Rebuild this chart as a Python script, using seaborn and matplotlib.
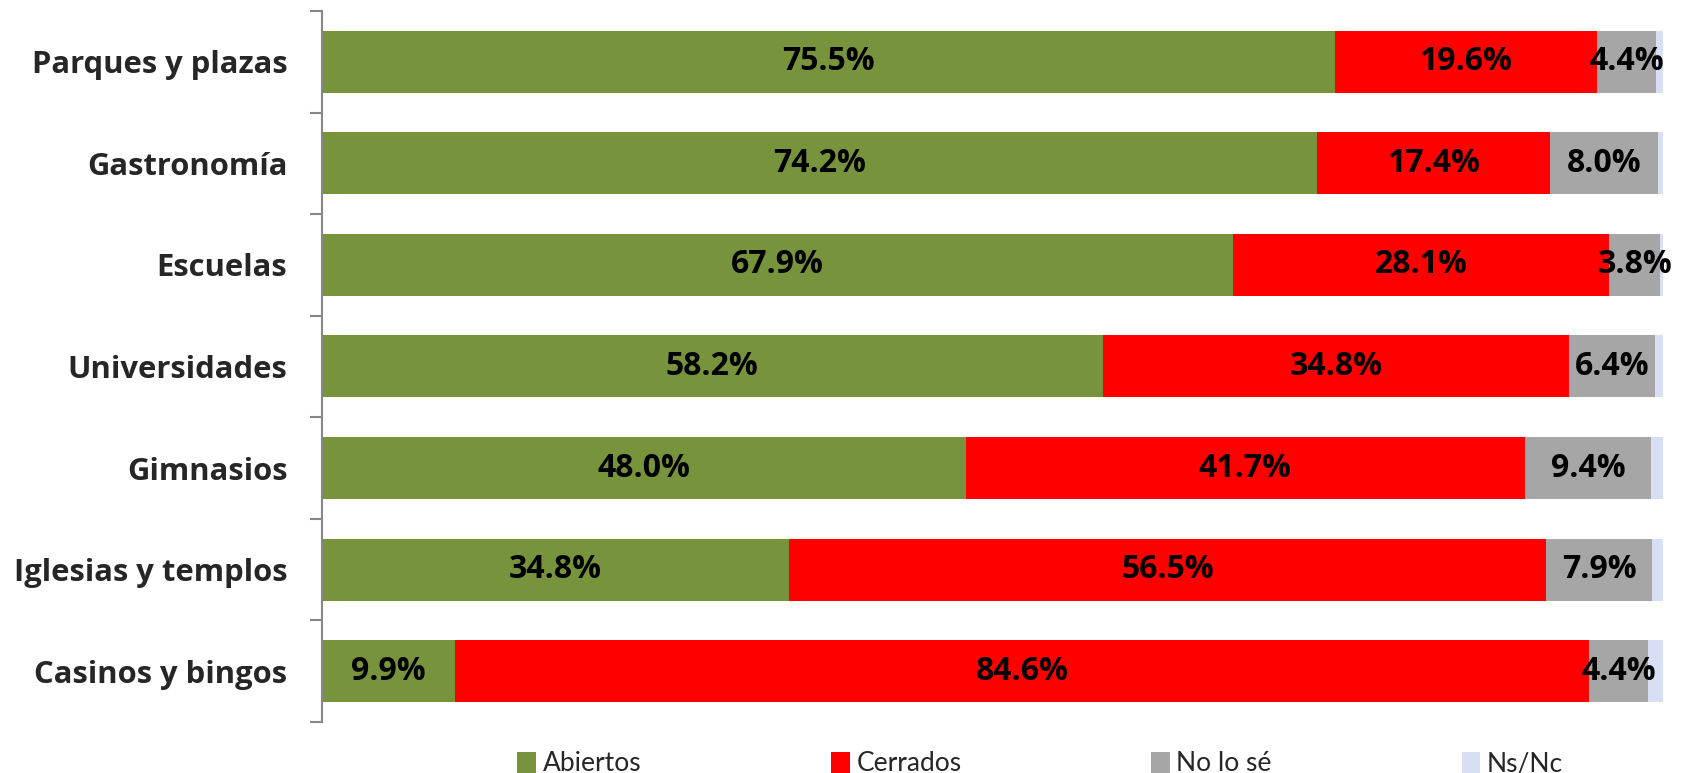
import numpy as np
import pandas as pd
import matplotlib
matplotlib.use("Agg")
import matplotlib.pyplot as plt
from matplotlib.patches import Patch
import seaborn as sns

categories = ["Parques y plazas", "Gastronomía", "Escuelas", "Universidades",
              "Gimnasios", "Iglesias y templos", "Casinos y bingos"]
abiertos = [75.5, 74.2, 67.9, 58.2, 48.0, 34.8, 9.9]
cerrados = [19.6, 17.4, 28.1, 34.8, 41.7, 56.5, 84.6]
no_lo_se = [4.4, 8.0, 3.8, 6.4, 9.4, 7.9, 4.4]
ns_nc = [0.5, 0.4, 0.2, 0.6, 0.9, 0.8, 1.1]
series_names = ["Abiertos", "Cerrados", "No lo sé", "Ns/Nc"]
colors = ["#77933C", "#FF0000", "#A6A6A6", "#D6DFF3"]

sns.set_style("white")
plt.rcParams["font.family"] = ["Open Sans", "DejaVu Sans"]

df = pd.DataFrame({"cat": categories, "Abiertos": abiertos, "Cerrados": cerrados,
                   "No lo sé": no_lo_se, "Ns/Nc": ns_nc})
vals = df[series_names].to_numpy()
cum = np.cumsum(vals, axis=1)

fig = plt.figure(figsize=(16.86, 7.73), dpi=100)
ax = fig.add_axes([0.191, 0.066, 0.9864 - 0.191, 0.9858 - 0.066])

for j in range(len(series_names) - 1, -1, -1):
    d = pd.DataFrame({"cat": categories, "v": cum[:, j]})
    sns.barplot(data=d, x="v", y="cat", orient="h", color=colors[j],
                width=0.61, ax=ax, saturation=1, edgecolor="none", linewidth=0)

ax.set_xlim(0, 100)
ax.set_xlabel("")
ax.set_ylabel("")
ax.set_xticks([])

# value labels (first three series)
for i in range(len(categories)):
    for j in range(3):
        left = cum[i, j] - vals[i, j]
        ax.text(left + vals[i, j] / 2, i, f"{vals[i, j]:.1f}%", ha="center", va="center",
                fontsize=23, fontweight="bold", color="black")

for s in ["top", "right", "bottom"]:
    ax.spines[s].set_visible(False)
ax.spines["left"].set_color("#868686")
ax.spines["left"].set_linewidth(1.5)

ax.tick_params(axis="y", which="major", left=False, length=0, pad=25, labelsize=22.3)
for lab in ax.get_yticklabels():
    lab.set_fontweight("bold")
ax.set_yticks(np.arange(-0.5, len(categories), 1), minor=True)
ax.tick_params(axis="y", which="minor", left=True, length=9, width=1.5,
               color="#868686", direction="out")

handles = [Patch(facecolor=c, edgecolor="none") for c in colors]
fig.legend(handles, series_names, loc="center", bbox_to_anchor=(0.617, 0.012), ncol=4,
           frameon=False, prop={"family": ["Lato", "DejaVu Sans"], "size": 19},
           handlelength=0.7, handleheight=0.85,
           handletextpad=0.25, columnspacing=7.2)

fig.savefig("out.png", dpi=100, facecolor="white")
